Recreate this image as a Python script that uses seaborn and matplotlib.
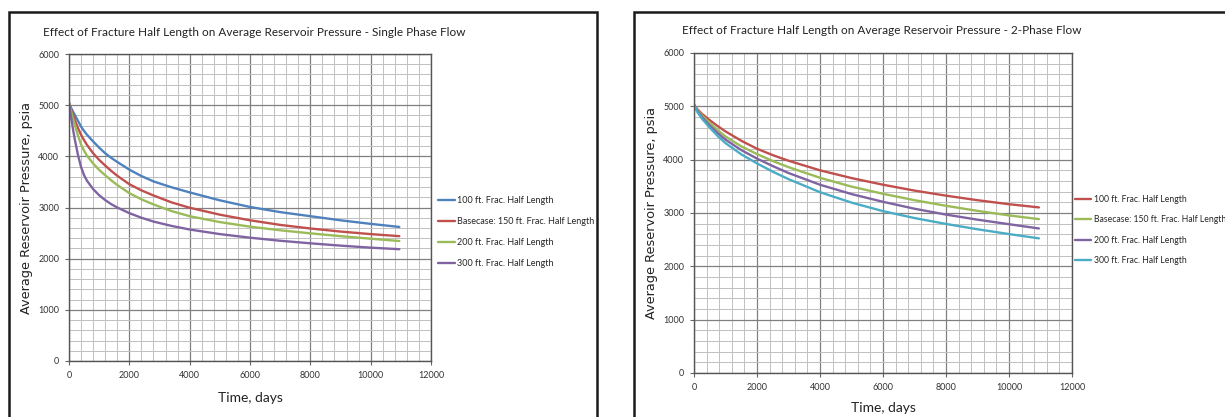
import matplotlib
matplotlib.use("Agg")
import matplotlib.pyplot as plt
from matplotlib.patches import Rectangle
from matplotlib.ticker import MultipleLocator
import seaborn as sns
import pandas as pd

# ---------------- data ----------------
days_sp = [0, 50, 100, 150, 200, 300, 400, 500, 600, 800, 1000, 1200, 1400, 1600, 2000, 2400,
           2800, 3400, 4000, 5000, 6000, 7000, 8000, 9000, 10000, 10950]
sp_100 = [5040, 4970, 4910, 4855, 4800, 4690, 4580, 4495, 4420, 4290, 4170, 4060, 3970, 3890, 3740, 3615,
          3510, 3395, 3295, 3140, 3010, 2910, 2830, 2750, 2680, 2620]
sp_150 = [5040, 4950, 4860, 4780, 4700, 4550, 4420, 4315, 4220, 4060, 3930, 3820, 3715, 3620, 3455, 3335,
          3235, 3100, 2995, 2860, 2750, 2660, 2590, 2530, 2480, 2440]
sp_200 = [5040, 4920, 4800, 4700, 4600, 4400, 4230, 4110, 4010, 3860, 3735, 3630, 3530, 3440, 3280, 3160,
          3060, 2930, 2830, 2715, 2625, 2555, 2495, 2440, 2390, 2345]
sp_300 = [5040, 4830, 4650, 4470, 4310, 4020, 3790, 3630, 3520, 3360, 3240, 3145, 3065, 3000, 2890, 2800,
          2725, 2640, 2570, 2480, 2410, 2350, 2300, 2255, 2215, 2185]

days_tp = [0, 100, 250, 500, 750, 1000, 1500, 2000, 2500, 3000, 4000, 5000, 6000, 7000, 8000, 9000,
           10000, 10950]
tp_100 = [5030, 4950, 4860, 4740, 4630, 4530, 4355, 4205, 4085, 3980, 3800, 3655, 3530, 3420, 3325, 3240,
          3165, 3105]
tp_150 = [5030, 4935, 4830, 4690, 4555, 4435, 4250, 4105, 3975, 3860, 3660, 3495, 3360, 3240, 3135, 3040,
          2955, 2885]
tp_200 = [5030, 4920, 4800, 4640, 4500, 4375, 4180, 4020, 3880, 3750, 3530, 3355, 3210, 3080, 2970, 2875,
          2790, 2710]
tp_300 = [5030, 4900, 4770, 4600, 4445, 4310, 4100, 3930, 3775, 3635, 3390, 3195, 3035, 2905, 2795, 2695,
          2605, 2525]

labels = ["100 ft. Frac. Half Length", "Basecase: 150 ft. Frac. Half Length",
          "200 ft. Frac. Half Length", "300 ft. Frac. Half Length"]
title_sp = "Effect of Fracture Half Length on Average Reservoir Pressure - Single Phase Flow"
title_tp = "Effect of Fracture Half Length on Average Reservoir Pressure - 2-Phase Flow"
xlabel = "Time, days"
ylabel = "Average Reservoir Pressure, psia"

colors_sp = ["#4F81BD", "#C0504D", "#9BBB59", "#8064A2"]
colors_tp = ["#C0504D", "#9BBB59", "#8064A2", "#4BACC6"]


def long_df(days, series):
    rows = []
    for lab, vals in zip(labels, series):
        for d, v in zip(days, vals):
            rows.append({"days": d, "p": v, "case": lab})
    return pd.DataFrame(rows)


df_sp = long_df(days_sp, [sp_100, sp_150, sp_200, sp_300])
df_tp = long_df(days_tp, [tp_100, tp_150, tp_200, tp_300])

sns.set_style("white")
plt.rcParams["font.family"] = ["Lato", "DejaVu Sans"]

W, H = 1225, 417
fig = plt.figure(figsize=(W / 100, H / 100), dpi=100)


def fx(px):
    return px / W


def fy(py):
    return 1 - py / H


# outer frames
fig.add_artist(Rectangle((fx(9), -0.05), fx(597 - 9), fy(12) + 0.05,
                         transform=fig.transFigure, fill=False, lw=1.8, ec="#1a1a1a"))
fig.add_artist(Rectangle((fx(634), -0.05), fx(700), fy(12) + 0.05,
                         transform=fig.transFigure, fill=False, lw=1.8, ec="#1a1a1a"))


def setup(ax, df, colors, title, title_x, title_y, ylab_x, xlab_y, leg_x, leg_y, leg_fs):
    sns.lineplot(data=df, x="days", y="p", hue="case", hue_order=labels,
                 palette=colors, ax=ax, linewidth=1.7, legend=False)
    ax.set_xlim(0, 12000)
    ax.set_ylim(0, 6000)
    ax.xaxis.set_major_locator(MultipleLocator(2000))
    ax.xaxis.set_minor_locator(MultipleLocator(400))
    ax.yaxis.set_major_locator(MultipleLocator(1000))
    ax.yaxis.set_minor_locator(MultipleLocator(200))
    ax.grid(which="major", color="#808080", lw=0.9)
    ax.grid(which="minor", color="#c0c0c0", lw=0.7)
    ax.set_axisbelow(True)
    for s in ax.spines.values():
        s.set_visible(True)
        s.set_color("#555555")
        s.set_linewidth(1.0)
    ax.tick_params(which="major", direction="out", length=3, width=0.8, color="#666666",
                   labelsize=6.5, labelcolor="#333333", pad=4, left=True, bottom=True)
    ax.tick_params(which="minor", length=0)
    ax.set_xlabel("")
    ax.set_ylabel("")
    fig.text(fx(title_x), fy(title_y), title, fontsize=8.5, color="#222222",
             ha="left", va="center")
    bb = ax.get_position()
    fig.text(fx(ylab_x), bb.y0 + bb.height / 2, ylabel, rotation=90, fontsize=9.3,
             color="#222222", ha="center", va="center", family="DejaVu Sans")
    fig.text(bb.x0 + bb.width / 2, fy(xlab_y), xlabel, fontsize=10, color="#222222",
             ha="center", va="center")
    handles = [plt.Line2D([], [], color=c, lw=1.7) for c in colors]
    fig.legend(handles, labels, loc="upper left",
               bbox_to_anchor=(fx(leg_x), fy(leg_y)), bbox_transform=fig.transFigure,
               frameon=False, fontsize=leg_fs, handlelength=1.9, handletextpad=0.25,
               labelspacing=1.33, borderpad=0, borderaxespad=0)


ax1 = fig.add_axes([fx(69), fy(361), fx(431 - 69), (361 - 54) / H])
ax2 = fig.add_axes([fx(694), fy(373), fx(1072 - 694), (373 - 53) / H])

setup(ax1, df_sp, colors_sp, title_sp, 43, 32, 27, 398, 438, 196, 6.5)
setup(ax2, df_tp, colors_tp, title_tp, 682, 30, 651, 408, 1075, 195, 6.2)

fig.savefig("out.png", dpi=100)
